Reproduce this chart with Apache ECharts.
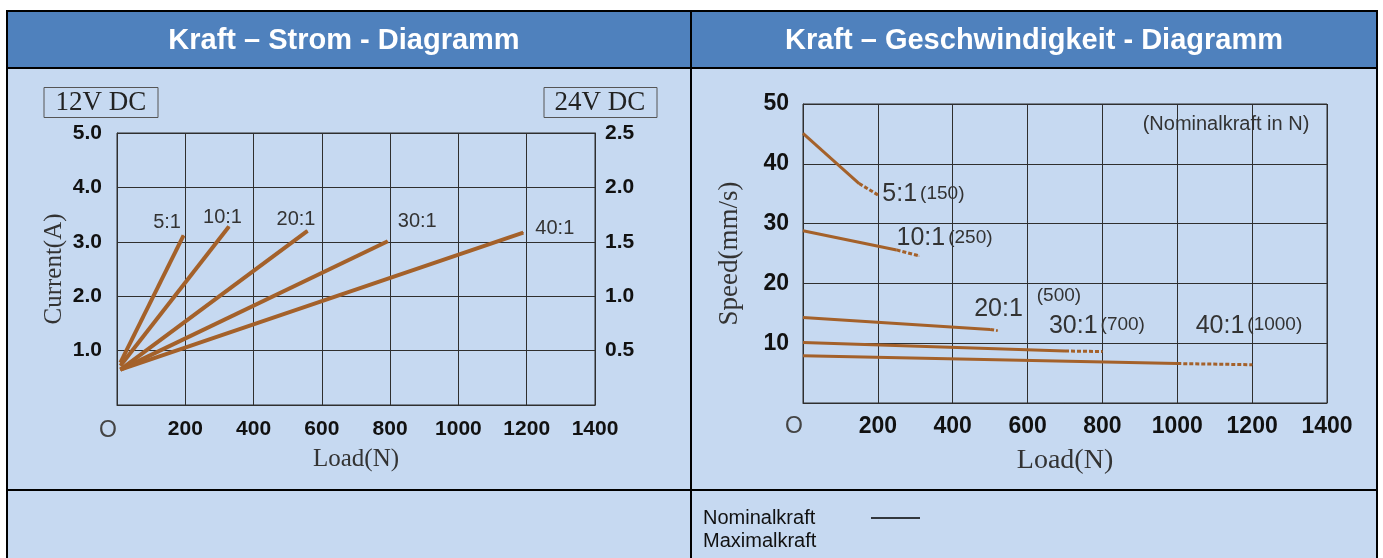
<!DOCTYPE html>
<html><head><meta charset="utf-8">
<script src="https://cdn.jsdelivr.net/npm/echarts@6/dist/echarts.min.js"></script>
<style>html,body{margin:0;padding:0;background:#fff}#c{width:1383px;height:558px}</style>
</head><body><div id="c"></div><script>
// ---------- data ----------
const ratios = ['5:1', '10:1', '20:1', '30:1', '40:1'];
const loadTicks = [0, 200, 400, 600, 800, 1000, 1200, 1400];
const current12VTicks = [1.0, 2.0, 3.0, 4.0, 5.0];
const current24VTicks = [0.5, 1.0, 1.5, 2.0, 2.5];
const speedTicks = [10, 20, 30, 40, 50];

// Kraft - Strom (load N, current A @12V)
const currentStartLoad = [10, 10, 10, 10, 10];
const currentStartValue = [0.78, 0.72, 0.65, 0.65, 0.65];
const currentEndLoad = [195, 328, 558, 793, 1190];
const currentEndValue = [3.12, 3.28, 3.2, 3.01, 3.17];

// Kraft - Geschwindigkeit (load N, speed mm/s)
const speedAtZero = [45.1, 28.8, 14.3, 10.1, 7.9];
const nominalLoad = [150, 250, 500, 700, 1000];
const speedAtNominal = [36.7, 25.6, 12.3, 8.7, 6.6];
const maxLoad = [200, 310, 520, 800, 1200];
const speedAtMax = [34.8, 24.6, 12.1, 8.6, 6.4];

// ---------- styles ----------
const BROWN = '#A4612A';
const GRIDC = '#2f2f2f';
const BOLDF = "'Liberation Sans',Arial,sans-serif";
const SANS = "'Liberation Sans',Arial,sans-serif";
const SERIF = "'Liberation Serif','Times New Roman',serif";

const leftLabelPos = [[-16, -12], [-6, -9], [-11, -11], [30, -19], [32, -4]];
const rightLabelPos = [[5, 0], [-22, -17], [-23, -21], [-53, -25], [-56, -38]];

function fmtTick(list, dec) {
  return function (v) {
    for (const t of list) if (Math.abs(t - v) < 1e-9) return dec ? t.toFixed(dec) : String(t);
    return '';
  };
}

const series = [];
ratios.forEach((r, i) => {
  series.push({
    type: 'line', xAxisIndex: 0, yAxisIndex: 0, silent: true,
    symbol: 'circle', symbolSize: 1, showSymbol: true,
    itemStyle: { color: BROWN }, lineStyle: { color: BROWN, width: 4 },
    label: { show: false },
    data: [
      [currentStartLoad[i], currentStartValue[i]],
      { value: [currentEndLoad[i], currentEndValue[i]],
        label: { show: true, formatter: r, position: leftLabelPos[i], align: 'center', verticalAlign: 'middle',
                 fontFamily: SANS, fontSize: 20, color: '#333' } }
    ]
  });
  series.push({
    type: 'line', xAxisIndex: 1, yAxisIndex: 2, silent: true,
    symbol: 'none', lineStyle: { color: BROWN, width: 3 },
    data: [[0, speedAtZero[i]], [nominalLoad[i], speedAtNominal[i]]]
  });
  const small = '(' + nominalLoad[i] + ')';
  const isTwenty = i === 2;
  series.push({
    type: 'line', xAxisIndex: 1, yAxisIndex: 2, silent: true,
    symbol: 'circle', symbolSize: 1, showSymbol: true,
    itemStyle: { color: BROWN }, lineStyle: { color: BROWN, width: 3, type: [4, 2] },
    label: { show: false },
    data: [
      [nominalLoad[i], speedAtNominal[i]],
      { value: [maxLoad[i], speedAtMax[i]],
        label: { show: true, formatter: '{a|' + r + '}{' + (isTwenty ? 'u' : 'b') + '|' + small + '}',
                 position: rightLabelPos[i], align: 'left', verticalAlign: 'middle',
                 rich: {
                   a: { fontFamily: SANS, fontSize: 25, color: '#333' },
                   b: { fontFamily: SANS, fontSize: 19, color: '#333', padding: [0, 0, 2, 3] },
                   u: { fontFamily: SANS, fontSize: 19, color: '#333', padding: [0, 0, 26, 14] }
                 } } }
    ]
  });
});

const oLabel = { o: { fontFamily: SANS, fontWeight: 'normal', fontSize: 23, color: '#444', padding: [0, 18, 0, 0] } };

const option = {
  animation: false,
  backgroundColor: '#ffffff',
  grid: [
    { left: 117, top: 133, width: 478, height: 272, show: true, borderColor: GRIDC, borderWidth: 1, backgroundColor: 'transparent' },
    { left: 803, top: 104, width: 524, height: 299, show: true, borderColor: GRIDC, borderWidth: 1, backgroundColor: 'transparent' }
  ],
  xAxis: [
    { gridIndex: 0, type: 'value', min: loadTicks[0], max: loadTicks[loadTicks.length - 1], interval: 200,
      axisLine: { show: true, lineStyle: { color: GRIDC } }, axisTick: { show: false },
      splitLine: { show: true, lineStyle: { color: GRIDC, width: 1 } },
      axisLabel: { margin: 14, fontFamily: BOLDF, fontWeight: 'bold', fontSize: 21, color: '#111',
        formatter: v => v === 0 ? '{o|O}' : fmtTick(loadTicks)(v), rich: oLabel },
      name: 'Load(N)', nameLocation: 'middle', nameGap: 42,
      nameTextStyle: { fontFamily: SERIF, fontSize: 25, color: '#333' } },
    { gridIndex: 1, type: 'value', min: loadTicks[0], max: loadTicks[loadTicks.length - 1], interval: 200,
      axisLine: { show: true, lineStyle: { color: GRIDC } }, axisTick: { show: false },
      splitLine: { show: true, lineStyle: { color: GRIDC, width: 1 } },
      axisLabel: { margin: 12, fontFamily: BOLDF, fontWeight: 'bold', fontSize: 23, color: '#111',
        formatter: v => v === 0 ? '{o|O}' : fmtTick(loadTicks)(v), rich: oLabel },
      name: 'Load(N)', nameLocation: 'middle', nameGap: 44,
      nameTextStyle: { fontFamily: SERIF, fontSize: 28, color: '#333' } }
  ],
  yAxis: [
    { gridIndex: 0, type: 'value', min: 0, max: 5, interval: 1,
      axisLine: { show: true, lineStyle: { color: GRIDC } }, axisTick: { show: false },
      splitLine: { show: true, lineStyle: { color: GRIDC, width: 1 } },
      axisLabel: { margin: 15, fontFamily: BOLDF, fontWeight: 'bold', fontSize: 21, color: '#111',
        formatter: fmtTick(current12VTicks, 1) },
      name: 'Current(A)', nameLocation: 'middle', nameGap: 50,
      nameTextStyle: { fontFamily: SERIF, fontSize: 25, color: '#333' } },
    { gridIndex: 0, type: 'value', position: 'right', min: 0, max: 2.5, interval: 0.5,
      axisLine: { show: true, lineStyle: { color: GRIDC } }, axisTick: { show: false },
      splitLine: { show: false },
      axisLabel: { margin: 10, fontFamily: BOLDF, fontWeight: 'bold', fontSize: 21, color: '#111',
        formatter: fmtTick(current24VTicks, 1) } },
    { gridIndex: 1, type: 'value', min: 0, max: 50, interval: 10,
      axisLine: { show: true, lineStyle: { color: GRIDC } }, axisTick: { show: false },
      splitLine: { show: true, lineStyle: { color: GRIDC, width: 1 } },
      axisLabel: { margin: 14, fontFamily: BOLDF, fontWeight: 'bold', fontSize: 23, color: '#111',
        formatter: fmtTick(speedTicks) },
      name: 'Speed(mm/s)', nameLocation: 'middle', nameGap: 60,
      nameTextStyle: { fontFamily: SERIF, fontSize: 27, color: '#333' } }
  ],
  graphic: [
    // table backgrounds
    { type: 'rect', z: -100, silent: true, shape: { x: 7, y: 10, width: 1371, height: 58 }, style: { fill: '#4F81BD' } },
    { type: 'rect', z: -100, silent: true, shape: { x: 7, y: 68, width: 1371, height: 495 }, style: { fill: '#C6D9F1' } },
    // table lines
    { type: 'line', z: 50, silent: true, shape: { x1: 7, y1: 11, x2: 1378, y2: 11 }, style: { stroke: '#000', lineWidth: 2 } },
    { type: 'line', z: 50, silent: true, shape: { x1: 7, y1: 68, x2: 1378, y2: 68 }, style: { stroke: '#000', lineWidth: 2 } },
    { type: 'line', z: 50, silent: true, shape: { x1: 7, y1: 490, x2: 1378, y2: 490 }, style: { stroke: '#000', lineWidth: 2 } },
    { type: 'line', z: 50, silent: true, shape: { x1: 7, y1: 10, x2: 7, y2: 558 }, style: { stroke: '#000', lineWidth: 2 } },
    { type: 'line', z: 50, silent: true, shape: { x1: 691, y1: 10, x2: 691, y2: 558 }, style: { stroke: '#000', lineWidth: 2 } },
    { type: 'line', z: 50, silent: true, shape: { x1: 1377, y1: 10, x2: 1377, y2: 558 }, style: { stroke: '#000', lineWidth: 2 } },
    // headers
    { type: 'text', silent: true, x: 344, y: 41, style: { text: 'Kraft – Strom - Diagramm', fill: '#fff', font: "bold 29px 'Liberation Sans',Arial,sans-serif", textAlign: 'center', textVerticalAlign: 'middle' } },
    { type: 'text', silent: true, x: 1034, y: 41, style: { text: 'Kraft – Geschwindigkeit - Diagramm', fill: '#fff', font: "bold 29px 'Liberation Sans',Arial,sans-serif", textAlign: 'center', textVerticalAlign: 'middle' } },
    // voltage boxes
    { type: 'rect', silent: true, shape: { x: 44, y: 87.5, width: 114, height: 30 }, style: { fill: 'transparent', stroke: '#555', lineWidth: 1 } },
    { type: 'text', silent: true, x: 101, y: 103, style: { text: '12V DC', fill: '#222', font: "27px 'Liberation Serif','Times New Roman',serif", textAlign: 'center', textVerticalAlign: 'middle' } },
    { type: 'rect', silent: true, shape: { x: 544, y: 87.5, width: 113, height: 30 }, style: { fill: 'transparent', stroke: '#555', lineWidth: 1 } },
    { type: 'text', silent: true, x: 600, y: 103, style: { text: '24V DC', fill: '#222', font: "27px 'Liberation Serif','Times New Roman',serif", textAlign: 'center', textVerticalAlign: 'middle' } },
    // note
    { type: 'text', silent: true, x: 1226, y: 124, style: { text: '(Nominalkraft in N)', fill: '#333', font: "20px 'Liberation Sans',Arial,sans-serif", textAlign: 'center', textVerticalAlign: 'middle' } },
    // legend
    { type: 'text', silent: true, x: 703, y: 518, style: { text: 'Nominalkraft', fill: '#111', font: "20px 'Liberation Sans',Arial,sans-serif", textAlign: 'left', textVerticalAlign: 'middle' } },
    { type: 'text', silent: true, x: 703, y: 541, style: { text: 'Maximalkraft', fill: '#111', font: "20px 'Liberation Sans',Arial,sans-serif", textAlign: 'left', textVerticalAlign: 'middle' } },
    { type: 'line', silent: true, shape: { x1: 871, y1: 518, x2: 920, y2: 518 }, style: { stroke: '#000', lineWidth: 1.5 } }
  ],
  series: series
};

const chart = echarts.init(document.getElementById('c'), null, { renderer: 'canvas' });
chart.setOption(option);
</script></body></html>
